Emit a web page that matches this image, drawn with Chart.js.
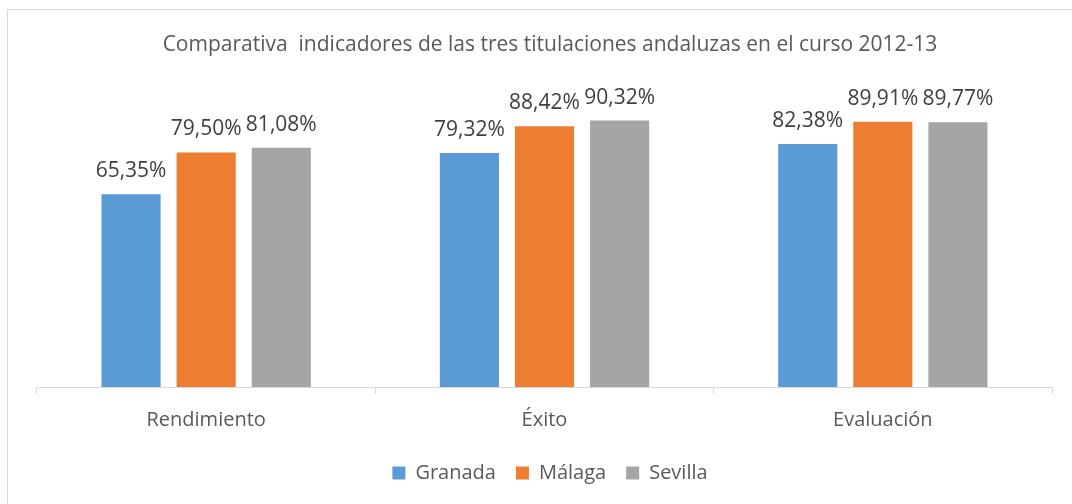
<!DOCTYPE html>
<html>
<head>
<meta charset="utf-8">
<script src="https://cdn.jsdelivr.net/npm/chart.js@4"></script>
<style>
  html, body { margin: 0; padding: 0; background: #fff; overflow: hidden; }
  .marco { position: absolute; left: 7px; top: 9px; width: 1100px; height: 520px; border: 1px solid #d9d9d9; }
  #grafico { position: absolute; left: 0; top: 0; }
</style>
</head>
<body>
<div class="marco"></div>
<canvas id="grafico" width="1072" height="504"></canvas>
<script>
const categorias = ['Rendimiento', 'Éxito', 'Evaluación'];
const granada = [65.35, 79.32, 82.38];
const malaga = [79.50, 88.42, 89.91];
const sevilla = [81.08, 90.32, 89.77];
const titulo = 'Comparativa  indicadores de las tres titulaciones andaluzas en el curso 2012-13';

const fuente = "'Open Sans', sans-serif";

// etiquetas de valor encima de cada barra
const etiquetasValor = {
    id: 'etiquetasValor',
    afterDatasetsDraw(chart) {
        const ctx = chart.ctx;
        ctx.save();
        ctx.font = '21px ' + fuente;
        ctx.fillStyle = '#404040';
        ctx.textAlign = 'center';
        ctx.textBaseline = 'alphabetic';
        chart.data.datasets.forEach((ds, i) => {
            chart.getDatasetMeta(i).data.forEach((bar, j) => {
                const texto = ds.data[j].toFixed(2).replace('.', ',') + '%';
                ctx.fillText(texto, bar.x, bar.y - 17);
            });
        });
        ctx.restore();
    }
};

new Chart(document.getElementById('grafico').getContext('2d'), {
    type: 'bar',
    data: {
        labels: categorias,
        datasets: [
            { label: 'Granada', data: granada, backgroundColor: '#5B9BD5' },
            { label: 'Málaga', data: malaga, backgroundColor: '#ED7D31' },
            { label: 'Sevilla', data: sevilla, backgroundColor: '#A5A5A5' }
        ]
    },
    options: {
        responsive: false,
        animation: false,
        categoryPercentage: 0.666,
        barPercentage: 0.787,
        layout: {
            padding: { left: 37, right: 9, top: 10, bottom: 11 }
        },
        scales: {
            x: {
                grid: {
                    display: true,
                    drawOnChartArea: false,
                    drawTicks: true,
                    tickLength: 7,
                    color: '#d9d9d9',
                    offset: true
                },
                border: { display: true, color: '#d9d9d9', width: 1 },
                ticks: {
                    font: { family: fuente, size: 20 },
                    color: '#595959',
                    padding: 14
                },
                afterFit(scale) { scale.height = 56; }
            },
            y: {
                position: 'right',
                min: 0,
                max: 100,
                grid: { display: false },
                border: { display: false },
                ticks: { display: false },
                afterFit(scale) { scale.width = 11; }
            }
        },
        plugins: {
            title: {
                display: true,
                text: titulo,
                color: '#595959',
                font: { family: fuente, size: 21, weight: 'normal' },
                padding: { top: 22, bottom: 34.8 }
            },
            legend: {
                position: 'bottom',
                labels: {
                    boxWidth: 13,
                    boxHeight: 13,
                    padding: 20,
                    color: '#595959',
                    font: { family: fuente, size: 20 }
                }
            },
            tooltip: { enabled: false }
        }
    },
    plugins: [etiquetasValor]
});
</script>
</body>
</html>
